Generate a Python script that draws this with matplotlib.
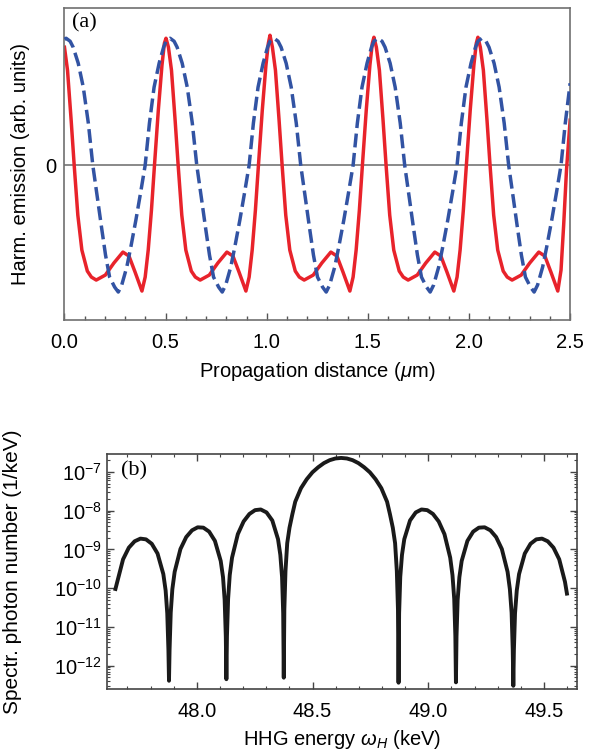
import matplotlib
matplotlib.use("Agg")
import matplotlib.pyplot as plt
import numpy as np
from matplotlib.ticker import MultipleLocator, FixedLocator, LogLocator, NullFormatter, FormatStrFormatter

plt.rcParams['font.family'] = ['Liberation Sans', 'DejaVu Sans']
plt.rcParams['mathtext.fontset'] = 'custom'
plt.rcParams['mathtext.rm'] = 'Liberation Sans'
plt.rcParams['mathtext.it'] = 'Liberation Sans:italic'
plt.rcParams['mathtext.bf'] = 'Liberation Sans:bold'

# (a) harmonic emission vs propagation distance (arb. units)
red_x = [0.000, 0.015, 0.033, 0.048, 0.066, 0.086, 0.113, 0.133, 0.157, 0.202, 0.244, 0.289,
         0.319, 0.349, 0.383, 0.399, 0.414, 0.430, 0.445, 0.464, 0.482, 0.494, 0.502,
         0.514, 0.529, 0.547, 0.562, 0.580, 0.600, 0.627, 0.647, 0.671, 0.716, 0.758, 0.803,
         0.833, 0.863, 0.897, 0.913, 0.928, 0.944, 0.959, 0.978, 0.996, 1.008, 1.016,
         1.028, 1.043, 1.061, 1.076, 1.094, 1.114, 1.141, 1.161, 1.185, 1.230, 1.272, 1.317,
         1.347, 1.377, 1.411, 1.427, 1.442, 1.458, 1.473, 1.492, 1.510, 1.522, 1.530,
         1.542, 1.557, 1.575, 1.590, 1.608, 1.628, 1.655, 1.675, 1.699, 1.744, 1.786, 1.831,
         1.861, 1.891, 1.925, 1.941, 1.956, 1.972, 1.987, 2.006, 2.024, 2.036, 2.044,
         2.056, 2.071, 2.089, 2.104, 2.122, 2.142, 2.169, 2.189, 2.213, 2.258, 2.300, 2.345,
         2.375, 2.405, 2.439, 2.455, 2.468, 2.482, 2.500]
red_y = [1.18, 0.95, 0.45, 0.00, -0.50, -0.85, -1.06, -1.12, -1.15, -1.10, -0.98, -0.87,
         -0.91, -1.07, -1.26, -1.12, -0.85, -0.45, 0.00, 0.55, 1.00, 1.22, 1.27,
         1.18, 0.95, 0.45, 0.00, -0.50, -0.85, -1.06, -1.12, -1.15, -1.10, -0.98, -0.87,
         -0.91, -1.07, -1.26, -1.12, -0.85, -0.45, 0.00, 0.55, 1.00, 1.22, 1.30,
         1.18, 0.95, 0.45, 0.00, -0.50, -0.85, -1.06, -1.12, -1.15, -1.10, -0.98, -0.87,
         -0.91, -1.07, -1.26, -1.12, -0.85, -0.45, 0.00, 0.55, 1.00, 1.22, 1.28,
         1.18, 0.95, 0.45, 0.00, -0.50, -0.85, -1.06, -1.12, -1.15, -1.10, -0.98, -0.87,
         -0.91, -1.07, -1.26, -1.12, -0.85, -0.45, 0.00, 0.55, 1.00, 1.22, 1.28,
         1.18, 0.95, 0.45, 0.00, -0.50, -0.85, -1.06, -1.12, -1.15, -1.10, -0.98, -0.87,
         -0.91, -1.07, -1.26, -1.05, -0.60, -0.05, 0.45]

blue_x = [0.000, 0.008, 0.028, 0.043, 0.068, 0.093, 0.118, 0.140, 0.163, 0.183, 0.203, 0.223,
          0.248, 0.266, 0.283, 0.308, 0.328, 0.353, 0.376, 0.399, 0.420, 0.443, 0.468, 0.490, 0.502,
          0.522, 0.542, 0.557, 0.582, 0.607, 0.632, 0.654, 0.677, 0.697, 0.717, 0.737, 0.762,
          0.780, 0.797, 0.822, 0.842, 0.867, 0.890, 0.913, 0.934, 0.957, 0.982, 1.004, 1.016,
          1.036, 1.056, 1.071, 1.096, 1.121, 1.146, 1.168, 1.191, 1.211, 1.231, 1.251, 1.276,
          1.294, 1.311, 1.336, 1.356, 1.381, 1.404, 1.427, 1.448, 1.471, 1.496, 1.518, 1.530,
          1.550, 1.570, 1.585, 1.610, 1.635, 1.660, 1.682, 1.705, 1.725, 1.745, 1.765, 1.790,
          1.808, 1.825, 1.850, 1.870, 1.895, 1.918, 1.941, 1.962, 1.985, 2.010, 2.032, 2.044,
          2.064, 2.084, 2.099, 2.124, 2.149, 2.174, 2.196, 2.219, 2.239, 2.259, 2.279, 2.304,
          2.322, 2.339, 2.364, 2.384, 2.409, 2.432, 2.455, 2.476, 2.500]
blue_y = [1.26, 1.27, 1.24, 1.18, 1.02, 0.78, 0.42, 0.00, -0.33, -0.62, -0.90, -1.12,
          -1.22, -1.27, -1.20, -1.02, -0.82, -0.55, -0.28, 0.00, 0.42, 0.78, 1.02, 1.18, 1.24,
          1.27, 1.24, 1.18, 1.02, 0.78, 0.42, 0.00, -0.33, -0.62, -0.90, -1.12, -1.22,
          -1.27, -1.20, -1.02, -0.82, -0.55, -0.28, 0.00, 0.42, 0.78, 1.02, 1.18, 1.24,
          1.27, 1.24, 1.18, 1.02, 0.78, 0.42, 0.00, -0.33, -0.62, -0.90, -1.12, -1.22,
          -1.27, -1.20, -1.02, -0.82, -0.55, -0.28, 0.00, 0.42, 0.78, 1.02, 1.18, 1.24,
          1.27, 1.24, 1.18, 1.02, 0.78, 0.42, 0.00, -0.33, -0.62, -0.90, -1.12, -1.22,
          -1.27, -1.20, -1.02, -0.82, -0.55, -0.28, 0.00, 0.42, 0.78, 1.02, 1.18, 1.24,
          1.27, 1.24, 1.18, 1.02, 0.78, 0.42, 0.00, -0.33, -0.62, -0.90, -1.12, -1.22,
          -1.27, -1.20, -1.02, -0.82, -0.55, -0.28, 0.00, 0.42, 0.82]

# (b) spectrum: energy in keV and log10 of photon number per keV
energy_kev = [47.646, 47.656, 47.681, 47.706, 47.731, 47.756, 47.780, 47.805, 47.830, 47.855,
              47.865, 47.872, 47.877, 47.8795, 47.882, 47.887, 47.894, 47.904, 47.929, 47.954,
              47.979, 48.0035, 48.028, 48.053, 48.078, 48.103, 48.113, 48.120, 48.125, 48.1275,
              48.130, 48.135, 48.142, 48.152, 48.177, 48.202, 48.227, 48.2515, 48.276, 48.301,
              48.326, 48.3507, 48.3606, 48.3681, 48.3730, 48.3755,
              48.3780, 48.3829, 48.3904, 48.4003, 48.4127, 48.4251, 48.4499, 48.4747, 48.4995,
              48.5243, 48.5491, 48.5739, 48.5987, 48.6235, 48.6483, 48.6731, 48.6979, 48.7227,
              48.7475, 48.7723, 48.7971, 48.8219, 48.8343, 48.8467, 48.8566, 48.8641, 48.8690,
              48.8715, 48.8740, 48.8789, 48.8864, 48.8963, 48.9211, 48.9459, 48.9707, 48.9955,
              49.0203, 49.0451, 49.0699, 49.0947, 49.1046, 49.1121, 49.1170, 49.1195,
              49.1220, 49.1269, 49.1344, 49.1443, 49.1691, 49.1939, 49.2187, 49.2435, 49.2683,
              49.2931, 49.3179, 49.3427, 49.3526, 49.3601, 49.3650, 49.3675,
              49.3700, 49.3749, 49.3824, 49.3923, 49.4171, 49.4419, 49.4667, 49.4915, 49.5163,
              49.5411, 49.5659, 49.5907, 49.6006]
log_photon = [-10.07, -9.836, -9.256, -8.955, -8.791, -8.722, -8.741, -8.855, -9.106, -9.637,
              -10.061, -10.650, -11.597, -12.39, -11.592, -10.633, -10.026, -9.579, -8.990, -8.681,
              -8.508, -8.430, -8.439, -8.542, -8.781, -9.299, -9.717, -10.302, -11.247, -12.35,
              -11.238, -10.276, -9.665, -9.212, -8.606, -8.279, -8.086, -7.987, -7.970, -8.046,
              -8.254, -8.737, -9.140, -9.713, -10.649, -12.31,
              -10.55, -9.56, -8.84, -8.44, -8.09, -7.77, -7.42, -7.19, -7.01,
              -6.88, -6.773, -6.698, -6.654, -6.640, -6.654, -6.698, -6.773, -6.88,
              -7.01, -7.19, -7.42, -7.77, -8.09, -8.44, -8.84, -9.56, -10.55,
              -12.44, -10.649, -9.713, -9.140, -8.737, -8.254, -8.046, -7.970, -7.987,
              -8.086, -8.279, -8.606, -9.212, -9.665, -10.276, -11.238, -12.43,
              -11.247, -10.302, -9.717, -9.299, -8.781, -8.542, -8.439, -8.430, -8.508,
              -8.681, -8.990, -9.579, -10.026, -10.633, -11.592, -12.52,
              -11.597, -10.650, -10.061, -9.637, -9.106, -8.855, -8.741, -8.722, -8.791,
              -8.955, -9.256, -9.836, -10.19]

photon = 10.0 ** np.array(log_photon)

fig = plt.figure(figsize=(5.97, 7.53), dpi=100)

# ---- panel (a)
ax1 = fig.add_axes([0.108, 0.575, 0.847, 0.414])
ax1.axhline(0, color='#808080', lw=1.3, zorder=1)
ax1.plot(red_x, red_y, color='#e8232b', lw=2.5, solid_joinstyle='round', zorder=2)
ax1.plot(blue_x, blue_y, color='#3253a3', lw=2.5, dashes=(4.0, 1.6), zorder=3)
ax1.set_xlim(0, 2.5)
ax1.set_ylim(-1.55, 1.57)
ax1.xaxis.set_major_locator(MultipleLocator(0.5))
ax1.xaxis.set_minor_locator(MultipleLocator(0.1))
ax1.xaxis.set_major_formatter(FormatStrFormatter('%.1f'))
ax1.set_yticks([0])
ax1.tick_params(axis='x', which='major', direction='in', length=5, width=1, color='#555555',
                labelsize=14.5, pad=9)
ax1.tick_params(axis='x', which='minor', direction='in', length=3, width=1, color='#555555')
ax1.tick_params(axis='y', length=0, labelsize=14.5, pad=6)
for s in ax1.spines.values():
    s.set_color('#707070')
    s.set_linewidth(1.2)
ax1.set_xlabel(r'Propagation distance ($\mu$m)', fontsize=14.5, labelpad=6)
ax1.set_ylabel('Harm. emission (arb. units)', fontsize=14.5)
ax1.yaxis.set_label_coords(-0.068, 0.5)
ax1.text(0.015, 0.985, '(a)', transform=ax1.transAxes, ha='left', va='top',
         fontsize=16, family=['Liberation Serif', 'DejaVu Serif'])

# ---- panel (b)
ax2 = fig.add_axes([0.179, 0.0846, 0.788, 0.3124])
ax2.plot(energy_kev, photon, color='#1a1a1a', lw=2.8, solid_capstyle='butt')
ax2.set_yscale('log')
ax2.set_xlim(47.611, 49.644)
ax2.set_ylim(10 ** -12.61, 10 ** -6.54)
ax2.xaxis.set_major_locator(MultipleLocator(0.5))
ax2.xaxis.set_minor_locator(MultipleLocator(0.1))
ax2.xaxis.set_major_formatter(FormatStrFormatter('%.1f'))
ax2.yaxis.set_major_locator(FixedLocator([1e-12, 1e-11, 1e-10, 1e-9, 1e-8, 1e-7]))
ax2.yaxis.set_minor_locator(LogLocator(base=10, subs=np.arange(2, 10), numticks=20))
ax2.yaxis.set_minor_formatter(NullFormatter())
ax2.set_yticklabels([r'$10^{-12}$', r'$10^{-11}$', r'$10^{-10}$', r'$10^{-9}$',
                     r'$10^{-8}$', r'$10^{-7}$'])
ax2.tick_params(which='both', direction='in', top=True, right=True, color='#444444')
ax2.tick_params(which='major', length=5, width=1, labelsize=14.5)
ax2.tick_params(axis='x', which='major', pad=9)
ax2.tick_params(which='minor', length=2.5, width=0.8)
for s in ax2.spines.values():
    s.set_color('#444444')
    s.set_linewidth(1.2)
ax2.set_xlabel(r'HHG energy $\omega_H$ (keV)', fontsize=14.5, labelpad=5)
ax2.set_ylabel('Spectr. photon number (1/keV)', fontsize=15)
ax2.yaxis.set_label_coords(-0.18, 0.5)
ax2.text(0.03, 0.97, '(b)', transform=ax2.transAxes, ha='left', va='top',
         fontsize=16, family=['Liberation Serif', 'DejaVu Serif'])

fig.savefig('out.png', dpi=100)
